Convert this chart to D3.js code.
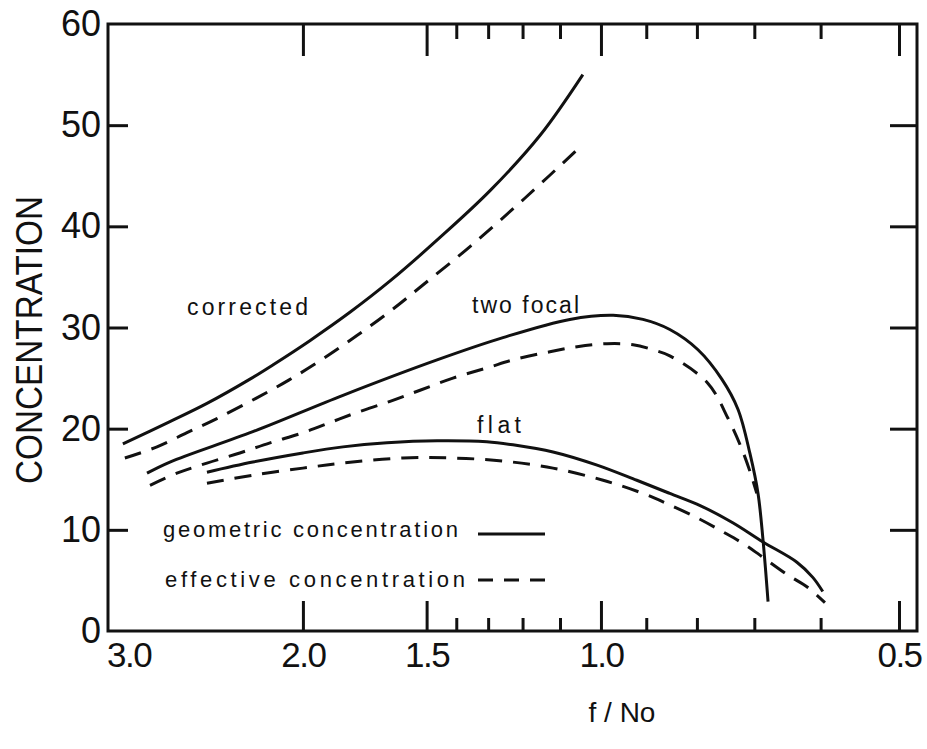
<!DOCTYPE html>
<html>
<head>
<meta charset="utf-8">
<script src="https://cdn.jsdelivr.net/npm/d3@7"></script>
<style>
  html, body { margin: 0; padding: 0; background: #fff; }
  svg { display: block; }
  text { font-family: "Liberation Sans", Arial, sans-serif; fill: #111; }
</style>
</head>
<body>
<script>
// ---------------- DATA ----------------
// x axis: f/No (logarithmic, decreasing to the right)
const xDomain = [3.147, 0.4795];
const xMajorTicks = [3.0, 2.0, 1.5, 1.0, 0.5];
const xMajorTickMarks = [2.0, 1.5, 1.0, 0.5];
const xMinorTicks = [1.4, 1.3, 1.2, 1.1, 0.9, 0.8, 0.7, 0.6];
const yDomain = [0, 60];
const yTicks = [0, 10, 20, 30, 40, 50, 60];
const yTickMarks = [10, 20, 30, 40, 50];

// [f/No, concentration]
const correctedGeometric = [
  [3.04, 18.5], [2.725, 20.7], [2.50, 22.5], [2.262, 24.9], [2.145, 26.3],
  [1.968, 28.7], [1.793, 31.5], [1.633, 34.6], [1.454, 38.9], [1.295, 43.5],
  [1.152, 49.0], [1.043, 55.0]
];
const correctedEffective = [
  [3.026, 17.1], [2.808, 18.2], [2.619, 19.6], [2.443, 21.0], [2.231, 23.0],
  [2.067, 24.8], [1.909, 26.9], [1.764, 29.2], [1.633, 31.6], [1.513, 34.2],
  [1.356, 38.0], [1.193, 42.8], [1.043, 48.1]
];
const twoFocalGeometric = [
  [2.874, 15.6], [2.725, 16.7], [2.247, 19.7], [1.822, 23.3], [1.464, 26.8],
  [1.256, 29.0], [1.075, 30.8], [0.972, 31.2], [0.907, 30.8], [0.852, 29.8],
  [0.798, 27.8], [0.755, 24.9], [0.727, 21.9], [0.707, 17.5], [0.694, 13.6],
  [0.686, 9.0], [0.678, 2.9]
];
const twoFocalEffective = [
  [2.854, 14.4], [2.681, 15.6], [2.50, 16.6], [2.316, 17.6], [2.159, 18.6],
  [2.0, 19.6], [1.878, 20.6], [1.764, 21.6], [1.633, 22.7], [1.523, 23.8],
  [1.411, 25.0], [1.304, 26.0], [1.216, 26.9], [1.126, 27.6], [1.057, 28.1],
  [0.986, 28.4], [0.928, 28.3], [0.886, 27.8], [0.852, 27.2], [0.780, 24.5],
  [0.744, 21.0], [0.720, 17.9], [0.704, 15.2], [0.696, 13.6]
];
const flatGeometric = [
  [2.50, 15.7], [2.247, 16.7], [2.0, 17.6], [1.822, 18.2], [1.645, 18.6],
  [1.464, 18.8], [1.304, 18.7], [1.227, 18.4], [1.118, 17.7], [1.009, 16.4],
  [0.920, 14.9], [0.852, 13.6], [0.794, 12.4], [0.736, 10.7], [0.686, 8.8],
  [0.634, 6.8], [0.611, 5.3], [0.597, 3.9]
];
const flatEffective = [
  [2.50, 14.6], [2.247, 15.4], [2.0, 16.1], [1.822, 16.6], [1.585, 17.1],
  [1.411, 17.1], [1.256, 16.8], [1.118, 16.1], [0.995, 14.9], [0.907, 13.6],
  [0.858, 12.6], [0.800, 11.2], [0.753, 9.8], [0.720, 8.7], [0.691, 7.5],
  [0.649, 5.6], [0.618, 4.3], [0.594, 2.8]
];

const seriesList = [
  { name: "corrected geometric", data: correctedGeometric, dashed: false },
  { name: "corrected effective", data: correctedEffective, dashed: true },
  { name: "two focal geometric", data: twoFocalGeometric, dashed: false },
  { name: "two focal effective", data: twoFocalEffective, dashed: true },
  { name: "flat geometric", data: flatGeometric, dashed: false },
  { name: "flat effective", data: flatEffective, dashed: true }
];

// ---------------- LAYOUT ----------------
const W = 927, H = 749;
const plotL = 108, plotR = 917, plotT = 24, plotB = 631;
const ink = "#111";
const dash = "17,11";

const svg = d3.select("body").append("svg")
  .attr("width", W).attr("height", H)
  .attr("viewBox", `0 0 ${W} ${H}`);
svg.append("rect").attr("width", W).attr("height", H).attr("fill", "#fff");

const x = d3.scaleLog().domain(xDomain).range([plotL, plotR]);
const y = d3.scaleLinear().domain(yDomain).range([plotB, plotT]);

function styleTicks(g) {
  g.select(".domain").remove();
  g.selectAll(".tick line").attr("stroke", ink).attr("stroke-width", 3);
}

// tick marks (inward)
svg.append("g").attr("transform", `translate(0,${plotB})`)
  .call(d3.axisBottom(x).tickValues(xMajorTickMarks).tickSize(-30).tickFormat(""))
  .call(styleTicks);
svg.append("g").attr("transform", `translate(0,${plotB})`)
  .call(d3.axisBottom(x).tickValues(xMinorTicks).tickSize(-13).tickFormat(""))
  .call(styleTicks);
svg.append("g").attr("transform", `translate(0,${plotT})`)
  .call(d3.axisTop(x).tickValues(xMajorTickMarks).tickSize(-32).tickFormat(""))
  .call(styleTicks);
svg.append("g").attr("transform", `translate(0,${plotT})`)
  .call(d3.axisTop(x).tickValues(xMinorTicks).tickSize(-15).tickFormat(""))
  .call(styleTicks);
svg.append("g").attr("transform", `translate(${plotL},0)`)
  .call(d3.axisLeft(y).tickValues(yTickMarks).tickSize(-20).tickFormat(""))
  .call(styleTicks);
svg.append("g").attr("transform", `translate(${plotR},0)`)
  .call(d3.axisRight(y).tickValues(yTickMarks).tickSize(-27).tickFormat(""))
  .call(styleTicks);

// tick labels
const xLab = svg.append("g").attr("transform", `translate(0,${plotB})`)
  .call(d3.axisBottom(x).tickValues(xMajorTicks).tickSize(0).tickPadding(11)
    .tickFormat(d3.format(".1f")));
xLab.select(".domain").remove();
xLab.selectAll("text").attr("font-size", 35).attr("letter-spacing", -1.5)
  .attr("fill", ink).style("font-family", "'Liberation Sans', Arial, sans-serif");

const yLab = svg.append("g").attr("transform", `translate(${plotL},0)`)
  .call(d3.axisLeft(y).tickValues(yTicks).tickSize(0).tickPadding(7)
    .tickFormat(d3.format("d")));
yLab.select(".domain").remove();
yLab.selectAll("text").attr("font-size", 36).attr("fill", ink)
  .style("font-family", "'Liberation Sans', Arial, sans-serif");

// frame
svg.append("rect")
  .attr("x", x.range()[0]).attr("y", y.range()[1])
  .attr("width", x.range()[1] - x.range()[0])
  .attr("height", y.range()[0] - y.range()[1])
  .attr("fill", "none").attr("stroke", ink).attr("stroke-width", 3);

// curves
const line = d3.line()
  .x(d => x(d[0])).y(d => y(d[1]))
  .curve(d3.curveCatmullRom.alpha(0.5));

svg.append("g").selectAll("path").data(seriesList).join("path")
  .attr("d", d => line(d.data))
  .attr("fill", "none")
  .attr("stroke", ink)
  .attr("stroke-width", 3)
  .attr("stroke-linecap", "butt")
  .attr("stroke-dasharray", d => d.dashed ? dash : null);

// axis titles
svg.append("text")
  .attr("transform", "translate(42,340) rotate(-90)")
  .attr("text-anchor", "middle")
  .attr("font-size", 36)
  .attr("textLength", 288).attr("lengthAdjust", "spacingAndGlyphs")
  .text("CONCENTRATION");

svg.append("text")
  .attr("x", 622).attr("y", 722)
  .attr("text-anchor", "middle")
  .attr("font-size", 28)
  .text("f / No");

// curve labels
function label(txt, x0, yb, len, size) {
  svg.append("text").attr("x", x0).attr("y", yb)
    .attr("font-size", size)
    .attr("textLength", len).attr("lengthAdjust", "spacing")
    .text(txt);
}
label("corrected", 187, 315, 121, 23);
label("two focal", 472, 313, 107, 23);
label("flat", 477, 433, 44, 23);

// legend
label("geometric concentration", 163, 537, 295, 22);
label("effective concentration", 165, 587, 300, 22);
svg.append("line").attr("x1", 478).attr("x2", 545).attr("y1", 534).attr("y2", 534)
  .attr("stroke", ink).attr("stroke-width", 3);
svg.append("line").attr("x1", 478).attr("x2", 545).attr("y1", 580).attr("y2", 580)
  .attr("stroke", ink).attr("stroke-width", 3).attr("stroke-dasharray", "15,11");
</script>
</body>
</html>
